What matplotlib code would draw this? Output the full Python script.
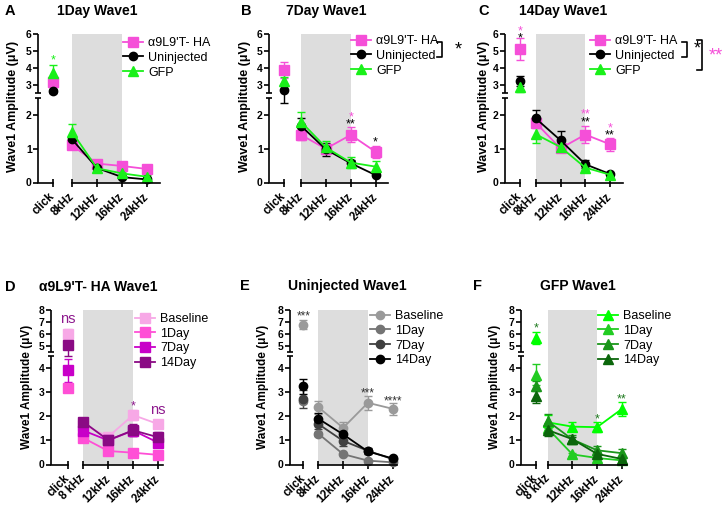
"""
Wave1 amplitude panels (ABR) - 1/7/14 day comparisons and per-group time course.
"""

import numpy as np
import matplotlib
matplotlib.use("Agg")
import matplotlib.pyplot as plt
import matplotlib.transforms as mtrans
from matplotlib.lines import Line2D

W, H = 726, 507
plt.rcParams['font.family'] = ['Liberation Sans', 'DejaVu Sans']

# ---- data (click, 8k, 12k, 16k, 24k) ----
freq_top = ['click', '8kHz', '12kHz', '16kHz', '24kHz']
freq_d = ['click', '8 kHz', '12kHz', '16kHz', '24kHz']
freq_e = ['click', '8kHz', '12kHz', '16kHz', '24kHz']
freq_f = ['click', '8 kHz', '12kHz', '16kHz', '24kHz']

day1_a9 = [3.18, 1.10, 0.56, 0.49, 0.40]
day1_a9_err = [0.15, 0.10, 0.05, 0.05, 0.05]
day1_unj = [2.65, 1.28, 0.43, 0.16, 0.09]
day1_unj_err = [0.10, 0.08, 0.04, 0.04, 0.04]
day1_gfp = [3.73, 1.50, 0.42, 0.27, 0.17]
day1_gfp_err = [0.45, 0.22, 0.05, 0.05, 0.04]

day7_a9 = [3.90, 1.41, 1.00, 1.41, 0.91]
day7_a9_err = [0.46, 0.15, 0.10, 0.22, 0.18]
day7_unj = [2.72, 1.68, 0.98, 0.57, 0.22]
day7_unj_err = [0.36, 0.22, 0.20, 0.10, 0.04]
day7_gfp = [3.26, 1.80, 1.04, 0.59, 0.47]
day7_gfp_err = [0.20, 0.30, 0.18, 0.16, 0.18]

day14_a9 = [5.13, 1.77, 1.01, 1.42, 1.13]
day14_a9_err = [0.63, 0.15, 0.08, 0.24, 0.20]
day14_unj = [3.24, 1.90, 1.25, 0.54, 0.25]
day14_unj_err = [0.30, 0.24, 0.28, 0.12, 0.04]
day14_gfp = [2.85, 1.43, 1.05, 0.44, 0.23]
day14_gfp_err = [0.28, 0.25, 0.08, 0.06, 0.04]

a9_base = [6.02, 1.65, 1.15, 2.05, 1.68]
a9_base_err = [0.40, 0.20, 0.12, 0.20, 0.12]
unj_base = [6.78, 2.38, 1.52, 2.56, 2.31]
unj_base_err = [0.35, 0.27, 0.25, 0.28, 0.25]
gfp_base = [5.67, 1.75, 1.57, 1.55, 2.30]
gfp_base_err = [0.50, 0.32, 0.20, 0.22, 0.30]

PINK = '#F54FD8'
GREEN = '#19F019'
PURPLE = '#8E1A8E'
DKGREEN = '#1E7A1E'

fig = plt.figure(figsize=(W / 100, H / 100), dpi=100)


def make_scale(b, gap):
    def fwd(y):
        y = np.asarray(y, float)
        return np.where(y <= b, y, b + gap + (y - b) * 0.5)

    def inv(s):
        s = np.asarray(s, float)
        return np.where(s <= b, s, np.where(s >= b + gap, b + (s - b - gap) * 2.0, b))
    return fwd, inv


def px_rect(x0, x1, ytop, ybot):
    return [x0 / W, 1 - ybot / H, (x1 - x0) / W, (ybot - ytop) / H]


def draw_panel(layout, ytop, ybot, ymax, yticks, b, gap, series, xlabels, stars):
    spine_x, click_x, f0, f1, fmax = layout
    fwd, inv = make_scale(b, gap)
    axc = fig.add_axes(px_rect(spine_x, click_x, ytop, ybot))
    axf = fig.add_axes(px_rect(f0, f1, ytop, ybot))
    for ax in (axc, axf):
        ax.set_yscale('function', functions=(fwd, inv))
        ax.set_ylim(0, ymax)
        for side in ('top', 'right', 'left'):
            ax.spines[side].set_visible(False)
        ax.spines['bottom'].set_linewidth(1.2)
        ax.patch.set_visible(False)
        ax.tick_params(axis='x', direction='inout', length=6, width=1.2, pad=6)
    axc.set_xlim(-1, 0)
    axf.set_xlim(0, fmax)
    axf.axvspan(0, 2, color='#DDDDDD', lw=0, zorder=0)
    axf.tick_params(axis='y', left=False, labelleft=False, which='both')

    axc.set_yticks(yticks)
    axc.set_yticklabels([str(t) for t in yticks], fontsize=7.5, fontweight='bold')
    axc.tick_params(axis='y', which='minor', left=False)
    axc.tick_params(axis='y', length=3.5, width=1.2, pad=1)

    # broken y spine
    tr = mtrans.blended_transform_factory(axc.transAxes, axc.transData)
    w_px = click_x - spine_x
    mk = 3.0 / w_px
    segs = [([0, 0], [0, b]), ([0, 0], [b + 1e-3, ymax]),
            ([-mk, mk], [b, b]), ([-mk, mk], [b + 1e-3, b + 1e-3])]
    for xs, ys in segs:
        axc.plot(xs, ys, color='black', lw=1.2, transform=tr, clip_on=False,
                 solid_capstyle='butt')

    axc.set_xticks([0])
    axc.set_xticklabels([xlabels[0]])
    axf.set_xticks([0, 1, 2, 3])
    axf.set_xticklabels(xlabels[1:])
    for ax in (axc, axf):
        for lab in ax.get_xticklabels():
            lab.set_rotation(45)
            lab.set_ha('right')
            lab.set_va('center')
            lab.set_rotation_mode('anchor')
            lab.set_fontsize(8.3)
            lab.set_fontweight('bold')

    handles = []
    for vals, errs, color, marker, ms, label in series:
        kw = dict(color=color, marker=marker, markersize=ms, capsize=3,
                  elinewidth=1.0, capthick=1.0, clip_on=False)
        axc.errorbar([0], [vals[0]], yerr=[errs[0]], ls='none', **kw)
        axf.errorbar(range(4), vals[1:], yerr=errs[1:], lw=1.3, **kw)
        handles.append(Line2D([], [], color=color, marker=marker, markersize=ms,
                              lw=1.3, label=label))

    for pos, yv, txt, color, fs in stars:
        ax = axc if pos == 'click' else axf
        xv = 0 if pos == 'click' else pos
        off = -0.58 * fs if '*' in txt else -0.26 * fs
        t = mtrans.offset_copy(ax.transData, fig=fig, y=off, units='points')
        ax.text(xv, yv, txt, color=color, fontsize=fs, ha='center',
                va='baseline', transform=t, clip_on=False)
    return axc, axf, handles


def add_legend(ax, handles, x, y):
    ax.legend(handles=handles, loc='upper left', bbox_to_anchor=(x / W, 1 - y / H),
              bbox_transform=fig.transFigure, frameon=False, fontsize=9,
              handlelength=1.6, handletextpad=0.4, labelspacing=0.22,
              borderpad=0, borderaxespad=0)


def bracket(x, y0, y1, tick=5):
    pts = [(x - tick, y0), (x, y0), (x, y1), (x - tick, y1)]
    xs = [p[0] / W for p in pts]
    ys = [1 - p[1] / H for p in pts]
    fig.add_artist(Line2D(xs, ys, color='black', lw=1.2, transform=fig.transFigure))


def label_text(x, y, txt, **kw):
    fig.text(x / W, 1 - y / H, txt, **kw)


top_yt = [0, 1, 2, 3, 4, 5, 6]
bot_yt = [0, 1, 2, 3, 4, 5, 6, 7, 8]
TOP = (34.3, 182.5)
BOT = (310.0, 464.5)

# ---- top row ----
top_series = lambda a9, a9e, unj, unje, gfp, gfpe: [
    (a9, a9e, PINK, 's', 6.5, "\u03b19L9'T- HA"),
    (unj, unje, 'black', 'o', 6, 'Uninjected'),
    (gfp, gfpe, GREEN, '^', 6.5, 'GFP'),
]

_, axA, hA = draw_panel((38, 52.7, 72, 160, 3.52), *TOP, 6, top_yt, 2.5, 0.14,
                        top_series(day1_a9, day1_a9_err, day1_unj, day1_unj_err,
                                   day1_gfp, day1_gfp_err),
                        freq_top, [('click', 4.72, '*', GREEN, 9)])
add_legend(axA, hA, 123, 37)

_, axB, hB = draw_panel((269, 284, 301, 388, 3.5), *TOP, 6, top_yt, 2.5, 0.14,
                        top_series(day7_a9, day7_a9_err, day7_unj, day7_unj_err,
                                   day7_gfp, day7_gfp_err),
                        freq_top, [(2, 2.05, '*', PINK, 9), (2, 1.85, '**', 'black', 9),
                                   (3, 1.32, '*', 'black', 9)])
add_legend(axB, hB, 351, 35)

_, axC, hC = draw_panel((505, 520, 535.7, 623, 3.52), *TOP, 6, top_yt, 2.5, 0.14,
                        top_series(day14_a9, day14_a9_err, day14_unj, day14_unj_err,
                                   day14_gfp, day14_gfp_err),
                        freq_top, [('click', 6.45, '*', PINK, 9), ('click', 6.0, '*', 'black', 9),
                                   (2, 2.15, '**', PINK, 9), (2, 1.9, '**', 'black', 9),
                                   (3, 1.74, '*', PINK, 9), (3, 1.53, '**', 'black', 9)])
add_legend(axC, hC, 590, 35)

# ---- bottom row ----
_, axD, hD = draw_panel((51, 68, 83.3, 163, 3.2), *BOT, 8, bot_yt, 4.5, 0.16, [
    (a9_base, a9_base_err, '#F7A8E6', 's', 6.5, 'Baseline'),
    (day1_a9, day1_a9_err, '#FF4FD6', 's', 6.5, '1Day'),
    (day7_a9, day7_a9_err, '#C800C8', 's', 6.5, '7Day'),
    (day14_a9, day14_a9_err, '#8A0A84', 's', 6.5, '14Day'),
], freq_d, [('click', 7.25, 'ns', PURPLE, 10.5), (2, 2.58, '*', PURPLE, 9),
            (3, 2.26, 'ns', PURPLE, 10.5)])
add_legend(axD, hD, 135, 313)

_, axE, hE = draw_panel((290, 303.3, 318.3, 396.7, 3.16), *BOT, 8, bot_yt, 4.5, 0.16, [
    (unj_base, unj_base_err, '#9A9A9A', 'o', 6, 'Baseline'),
    (day1_unj, day1_unj_err, '#747474', 'o', 6, '1Day'),
    (day7_unj, day7_unj_err, '#404040', 'o', 6, '7Day'),
    (day14_unj, day14_unj_err, '#000000', 'o', 6, '14Day'),
], freq_e, [('click', 7.78, '***', '#333333', 8.5), (2, 3.11, '***', '#333333', 8.5),
            (3, 2.77, '****', '#333333', 8.5)])
add_legend(axE, hE, 370, 310)

_, axF, hF = draw_panel((520.7, 535.7, 547.7, 626.7, 3.2), *BOT, 8, bot_yt, 4.5, 0.16, [
    (gfp_base, gfp_base_err, '#00FF00', '^', 6.5, 'Baseline'),
    (day1_gfp, day1_gfp_err, '#22CC22', '^', 6.5, '1Day'),
    (day7_gfp, day7_gfp_err, '#1A961A', '^', 6.5, '7Day'),
    (day14_gfp, day14_gfp_err, '#0B660B', '^', 6.5, '14Day'),
], freq_f, [('click', 6.8, '*', DKGREEN, 9), (2, 2.06, '*', DKGREEN, 9),
            (3, 2.86, '**', DKGREEN, 9)])
add_legend(axF, hF, 598, 310)

# ---- brackets next to legends ----
bracket(441.7, 42.3, 57.3)
label_text(458, 50, '*', fontsize=13, ha='center', va='center', color='black')
bracket(686.7, 41.7, 57.3)
label_text(697, 49, '*', fontsize=13, ha='center', va='center', color='black')
bracket(701.7, 40, 70)
label_text(716, 56, '**', fontsize=13, ha='center', va='center', color=PINK)

# ---- titles, letters, y labels ----
for x, y, t in [(97, 11, '1Day Wave1'), (326, 11, '7Day Wave1'), (563, 11, '14Day Wave1'),
                (98, 287, "\u03b19L9'T- HA Wave1"), (347, 286, 'Uninjected Wave1'),
                (578, 286, 'GFP Wave1')]:
    label_text(x, y, t, fontsize=10, fontweight='bold', ha='center', va='center')
for x, y, t in [(10, 11, 'A'), (246, 11, 'B'), (484, 11, 'C'),
                (10, 287, 'D'), (245, 286, 'E'), (478, 286, 'F')]:
    label_text(x, y, t, fontsize=10.5, fontweight='bold', ha='center', va='center')
for x, y, fs in [(13, 106, 9), (245, 106, 9), (484, 106, 9),
                 (27, 387, 8.5), (263, 387, 8.5), (495, 387, 8.5)]:
    label_text(x, y, 'Wave1 Amplitude (\u03bcV)', fontsize=fs, fontweight='bold',
               rotation=90, ha='center', va='center')

fig.savefig('out.png', dpi=100)
